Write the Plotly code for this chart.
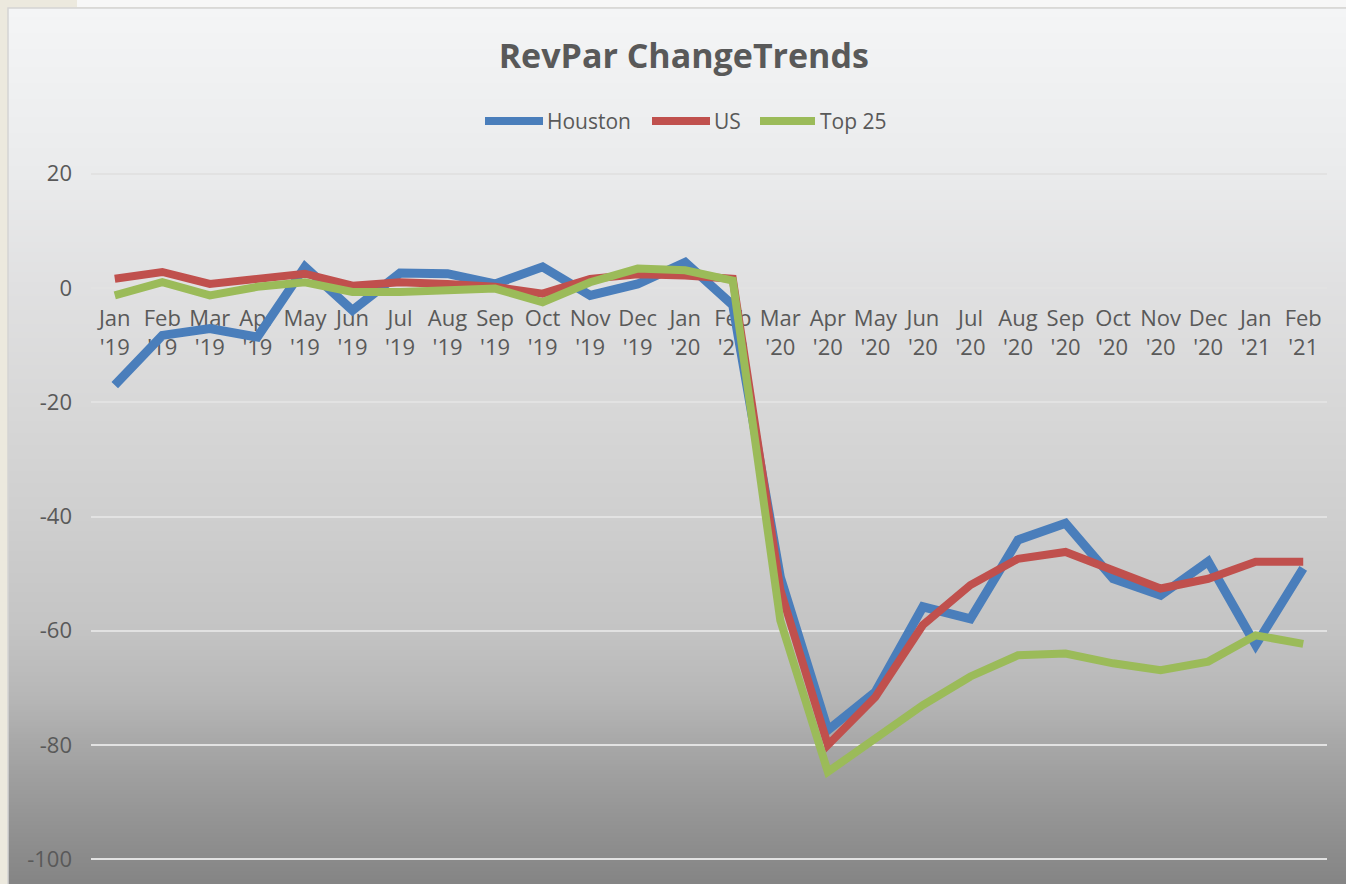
import base64, struct, zlib
import plotly.graph_objects as go

# ---------------- data ----------------
months = ["Jan<br>'19", "Feb<br>'19", "Mar<br>'19", "Apr<br>'19", "May<br>'19", "Jun<br>'19",
          "Jul<br>'19", "Aug<br>'19", "Sep<br>'19", "Oct<br>'19", "Nov<br>'19", "Dec<br>'19",
          "Jan<br>'20", "Feb<br>'20", "Mar<br>'20", "Apr<br>'20", "May<br>'20", "Jun<br>'20",
          "Jul<br>'20", "Aug<br>'20", "Sep<br>'20", "Oct<br>'20", "Nov<br>'20", "Dec<br>'20",
          "Jan<br>'21", "Feb<br>'21"]

houston = [-17.0, -8.3, -7.1, -8.6, 3.7, -3.9, 2.6, 2.5, 0.7, 3.7, -1.3, 0.7, 4.5, -3.0,
           -50.6, -77.4, -70.7, -55.8, -57.9, -44.1, -41.2, -50.9, -53.8, -47.9, -62.5, -49.1]
us = [1.6, 2.8, 0.7, 1.6, 2.5, 0.4, 1.0, 0.7, 0.2, -1.0, 1.6, 2.4, 2.2, 1.6,
      -52.8, -80.0, -71.6, -59.0, -52.0, -47.4, -46.2, -49.4, -52.6, -50.9, -47.9, -47.9]
top25 = [-1.3, 1.0, -1.3, 0.2, 1.0, -0.7, -0.7, -0.4, -0.1, -2.5, 1.0, 3.4, 3.1, 1.3,
         -58.2, -84.7, -78.9, -73.0, -68.0, -64.3, -64.0, -65.7, -66.9, -65.4, -60.8, -62.3]

series_names = ["Houston", "US", "Top 25"]
series_colors = ["#4A7EBB", "#C0504D", "#9BBB59"]
series_widths = [9, 8, 8]
y_ticks = [20, 0, -20, -40, -60, -80, -100]

# ---------------- layout geometry ----------------
W, H = 1346, 884
ML, MR, MT, MB = 91, 19, 168, 19
Y_MIN, Y_MAX = -101, 21
PW, PH = W - ML - MR, H - MT - MB


def px_x(x):
    return (x - ML) / PW


def px_y(y):
    return (H - MB - y) / PH


# vertical gradient PNG for the chart box
def gradient_png(stops, n=440):
    rows = b""
    for i in range(n):
        t = i / (n - 1)
        for j in range(len(stops) - 1):
            t0, c0 = stops[j]
            t1, c1 = stops[j + 1]
            if t0 <= t <= t1:
                f = (t - t0) / (t1 - t0) if t1 > t0 else 0
                c = [round(c0[k] + (c1[k] - c0[k]) * f) for k in range(3)]
                break
        rows += b"\x00" + bytes(c)

    def chunk(tag, data):
        return (struct.pack(">I", len(data)) + tag + data +
                struct.pack(">I", zlib.crc32(tag + data) & 0xFFFFFFFF))

    png = b"\x89PNG\r\n\x1a\n"
    png += chunk(b"IHDR", struct.pack(">IIBBBBB", 1, n, 8, 2, 0, 0, 0))
    png += chunk(b"IDAT", zlib.compress(rows))
    png += chunk(b"IEND", b"")
    return "data:image/png;base64," + base64.b64encode(png).decode()


stops = [(0.0, (244, 245, 246)), (0.19, (234, 235, 236)), (0.32, (224, 224, 225)),
         (0.45, (216, 216, 216)), (0.58, (207, 207, 207)), (0.71, (196, 196, 196)),
         (0.79, (182, 182, 182)), (0.84, (168, 168, 168)), (0.90, (154, 154, 154)),
         (0.97, (139, 139, 139)), (1.0, (133, 133, 133))]

fig = go.Figure()
for name, vals, col, wd in zip(series_names, [houston, us, top25], series_colors, series_widths):
    fig.add_trace(go.Scatter(
        x=list(range(len(months))), y=vals, mode="lines", name=name,
        line=dict(color=col, width=wd), hoverinfo="x+y+name", showlegend=False))

font_family = "Open Sans, Lato, sans-serif"
zero_pos = (0 - Y_MIN) / (Y_MAX - Y_MIN)

# custom legend (line sample + label), matching the reference layout
legend_line_px = [(485, 543), (652, 710), (760, 815)]
legend_text_px = [545, 712, 818]
legend_y_px = 121
shapes = [
    dict(type="rect", xref="paper", yref="paper", x0=px_x(77), x1=px_x(W + 2),
         y0=px_y(-2), y1=px_y(7), fillcolor="#F7F7F7", line=dict(width=0),
         layer="below"),
    dict(type="rect", xref="paper", yref="paper", x0=px_x(8), x1=px_x(W + 5),
         y0=px_y(8), y1=px_y(H + 5), fillcolor="rgba(0,0,0,0)",
         line=dict(color="#D4D4D4", width=1.5), layer="below"),
]
annotations = []
for (a, b), tx, name, col in zip(legend_line_px, legend_text_px, series_names, series_colors):
    shapes.append(dict(type="line", xref="paper", yref="paper",
                       x0=px_x(a), x1=px_x(b), y0=px_y(legend_y_px), y1=px_y(legend_y_px),
                       line=dict(color=col, width=8)))
    annotations.append(dict(text=name, xref="paper", yref="paper", x=px_x(tx),
                            y=px_y(legend_y_px), xanchor="left", yanchor="middle",
                            showarrow=False, font=dict(size=21, color="#595959")))

fig.update_layout(
    width=W, height=H,
    margin=dict(l=ML, r=MR, t=MT, b=MB, pad=0),
    paper_bgcolor="#ECE9DE",
    plot_bgcolor="rgba(0,0,0,0)",
    font=dict(family=font_family, color="#595959", size=20),
    title=dict(text="<b>RevPar ChangeTrends</b>", x=0.508, xanchor="center",
               y=1 - 56 / H, yanchor="middle", yref="container",
               font=dict(size=34, color="#595959", family=font_family)),
    showlegend=False,
    xaxis=dict(
        range=[-0.5, len(months) - 0.5],
        tickmode="array", tickvals=list(range(len(months))), ticktext=months,
        showgrid=False, zeroline=False, showline=False, ticks="",
        anchor="free", position=zero_pos, layer="below traces",
        tickfont=dict(size=22, color="#595959"), ticklabelstandoff=15,
        tickangle=0),
    yaxis=dict(
        range=[Y_MIN, Y_MAX], tickmode="array", tickvals=y_ticks,
        ticktext=[str(v) for v in y_ticks],
        showgrid=True, gridcolor="#E2E2E2", gridwidth=2,
        zeroline=False, showline=False, ticks="",
        tickfont=dict(size=22, color="#595959"), ticklabelstandoff=18,
        layer="below traces"),
    images=[dict(source=gradient_png(stops), xref="paper", yref="paper",
                 x=px_x(8), y=px_y(8), sizex=(W - 8) / PW, sizey=(H - 8) / PH,
                 xanchor="left", yanchor="top", sizing="stretch", layer="below")],
    shapes=shapes,
    annotations=annotations,
)

fig.write_html("out.html", config={"displayModeBar": False},
               post_script="document.body.style.margin='0';document.body.style.overflow='hidden';")
